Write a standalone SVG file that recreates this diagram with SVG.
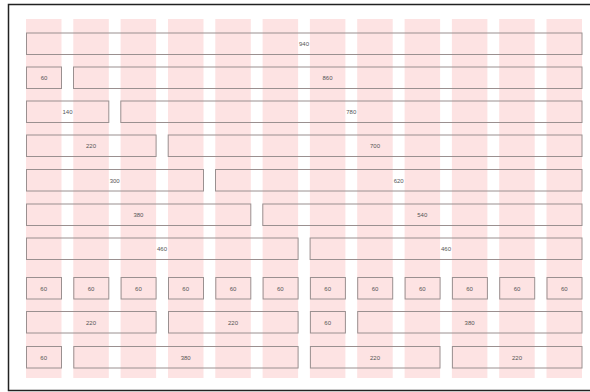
<svg xmlns="http://www.w3.org/2000/svg" width="590" height="392" viewBox="0 0 590 392">
<style>
.col{fill:#fde3e3}
.box{fill:none;stroke:#9a9090;stroke-width:1}
.lbl{font-family:"Liberation Sans",Arial,sans-serif;font-size:6px;fill:#555;text-anchor:middle;dominant-baseline:central}
</style>
<rect x="0" y="0" width="590" height="392" fill="#fff"/>
<rect x="8.5" y="4.5" width="590" height="386" fill="none" stroke="#222" stroke-width="1.5"/>
<g id="columns">
<rect class="col" x="26" y="19" width="35.5" height="359"/>
<rect class="col" x="73.3" y="19" width="35.5" height="359"/>
<rect class="col" x="120.6" y="19" width="35.5" height="359"/>
<rect class="col" x="168" y="19" width="35.5" height="359"/>
<rect class="col" x="215.3" y="19" width="35.5" height="359"/>
<rect class="col" x="262.6" y="19" width="35.5" height="359"/>
<rect class="col" x="309.9" y="19" width="35.5" height="359"/>
<rect class="col" x="357.2" y="19" width="35.5" height="359"/>
<rect class="col" x="404.6" y="19" width="35.5" height="359"/>
<rect class="col" x="451.9" y="19" width="35.5" height="359"/>
<rect class="col" x="499.2" y="19" width="35.5" height="359"/>
<rect class="col" x="546.5" y="19" width="35.5" height="359"/>
</g>
<g id="row1">
<rect class="box" x="26.5" y="33" width="555.5" height="21.5"/><text class="lbl" x="304" y="44">940</text>
</g>
<g id="row2">
<rect class="box" x="26.5" y="67" width="35" height="21.5"/><text class="lbl" x="44" y="78">60</text>
<rect class="box" x="73.5" y="67" width="508.5" height="21.5"/><text class="lbl" x="327.5" y="78">860</text>
</g>
<g id="row3">
<rect class="box" x="26.5" y="101" width="82.3" height="21.5"/><text class="lbl" x="67.5" y="112">140</text>
<rect class="box" x="120.8" y="101" width="461.2" height="21.5"/><text class="lbl" x="351.3" y="112">780</text>
</g>
<g id="row4">
<rect class="box" x="26.5" y="135" width="129.6" height="21.5"/><text class="lbl" x="91" y="146">220</text>
<rect class="box" x="168.2" y="135" width="413.8" height="21.5"/><text class="lbl" x="375" y="146">700</text>
</g>
<g id="row5">
<rect class="box" x="26.5" y="169.5" width="177" height="21.5"/><text class="lbl" x="114.7" y="180.5">300</text>
<rect class="box" x="215.5" y="169.5" width="366.5" height="21.5"/><text class="lbl" x="398.7" y="180.5">620</text>
</g>
<g id="row6">
<rect class="box" x="26.5" y="204" width="224.3" height="21.5"/><text class="lbl" x="138.4" y="215">380</text>
<rect class="box" x="262.8" y="204" width="319.2" height="21.5"/><text class="lbl" x="422.3" y="215">540</text>
</g>
<g id="row7">
<rect class="box" x="26.5" y="238" width="271.6" height="21.5"/><text class="lbl" x="162" y="249">460</text>
<rect class="box" x="310.1" y="238" width="271.9" height="21.5"/><text class="lbl" x="446" y="249">460</text>
</g>
<g id="row8">
<rect class="box" x="26.5" y="277.5" width="35" height="21.5"/><text class="lbl" x="43.7" y="288.5">60</text>
<rect class="box" x="73.8" y="277.5" width="35" height="21.5"/><text class="lbl" x="91" y="288.5">60</text>
<rect class="box" x="121.1" y="277.5" width="35" height="21.5"/><text class="lbl" x="138.4" y="288.5">60</text>
<rect class="box" x="168.5" y="277.5" width="35" height="21.5"/><text class="lbl" x="185.7" y="288.5">60</text>
<rect class="box" x="215.8" y="277.5" width="35" height="21.5"/><text class="lbl" x="233" y="288.5">60</text>
<rect class="box" x="263.1" y="277.5" width="35" height="21.5"/><text class="lbl" x="280.3" y="288.5">60</text>
<rect class="box" x="310.4" y="277.5" width="35" height="21.5"/><text class="lbl" x="327.7" y="288.5">60</text>
<rect class="box" x="357.7" y="277.5" width="35" height="21.5"/><text class="lbl" x="375" y="288.5">60</text>
<rect class="box" x="405.1" y="277.5" width="35" height="21.5"/><text class="lbl" x="422.3" y="288.5">60</text>
<rect class="box" x="452.4" y="277.5" width="35" height="21.5"/><text class="lbl" x="469.6" y="288.5">60</text>
<rect class="box" x="499.7" y="277.5" width="35" height="21.5"/><text class="lbl" x="517" y="288.5">60</text>
<rect class="box" x="547" y="277.5" width="35" height="21.5"/><text class="lbl" x="564.3" y="288.5">60</text>
</g>
<g id="row9">
<rect class="box" x="26.5" y="311.5" width="129.6" height="21.5"/><text class="lbl" x="91" y="322.5">220</text>
<rect class="box" x="168.5" y="311.5" width="129.6" height="21.5"/><text class="lbl" x="233" y="322.5">220</text>
<rect class="box" x="310.4" y="311.5" width="35" height="21.5"/><text class="lbl" x="327.7" y="322.5">60</text>
<rect class="box" x="357.7" y="311.5" width="224.3" height="21.5"/><text class="lbl" x="469.6" y="322.5">380</text>
</g>
<g id="row10">
<rect class="box" x="26.5" y="346.5" width="35" height="21.5"/><text class="lbl" x="43.7" y="357.5">60</text>
<rect class="box" x="73.8" y="346.5" width="224.3" height="21.5"/><text class="lbl" x="185.7" y="357.5">380</text>
<rect class="box" x="310.4" y="346.5" width="129.6" height="21.5"/><text class="lbl" x="375" y="357.5">220</text>
<rect class="box" x="452.4" y="346.5" width="129.6" height="21.5"/><text class="lbl" x="517" y="357.5">220</text>
</g>
<g id="connectors"/>
</svg>
